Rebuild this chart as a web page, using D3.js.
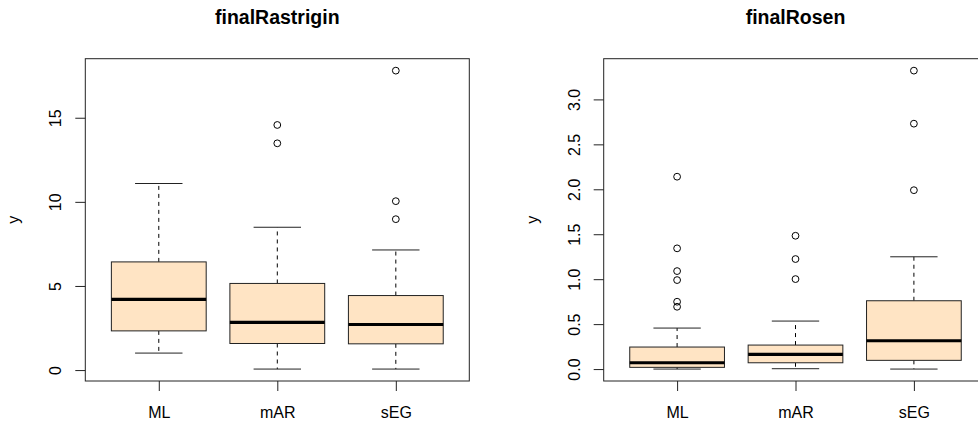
<!DOCTYPE html>
<html lang="en">
<head>
    <meta charset="UTF-8">
    <title>finalRastrigin / finalRosen</title>
    <script src="https://d3js.org/d3.v7.min.js"></script>
    <style>
        html, body { margin: 0; padding: 0; background: #fff; }
        svg { display: block; font-family: 'Liberation Sans', Arial, Helvetica, sans-serif; }
        .tick text { font-size: 16px; fill: #000; }
        .tick line { stroke: #222; }
    </style>
</head>
<body>
    <div id="chart"></div>

    <script>
        // groups shown on the x axis
        const categories = ["ML", "mAR", "sEG"];

        // box stats per group: [lower whisker, Q1, median, Q3, upper whisker]
        const rastriginStats = [
            [1.01, 2.33, 4.20, 6.43, 11.09],
            [0.06, 1.58, 2.83, 5.15, 8.49],
            [0.06, 1.56, 2.71, 4.43, 7.14]
        ];
        const rastriginOutliers = [
            [],
            [14.57, 13.48],
            [17.80, 10.04, 8.97]
        ];
        const rastriginTicks = [0, 5, 10, 15];

        const rosenStats = [
            [0.00, 0.019, 0.07, 0.245, 0.456],
            [0.004, 0.07, 0.163, 0.267, 0.534],
            [0.00, 0.097, 0.315, 0.76, 1.249]
        ];
        const rosenOutliers = [
            [2.14, 1.343, 1.09, 0.99, 0.749, 0.693],
            [1.483, 1.224, 1.001],
            [3.32, 2.73, 1.99]
        ];
        const rosenTicks = [0, 0.5, 1.0, 1.5, 2.0, 2.5, 3.0];

        const width = 978, height = 422;
        const fill = "#FFE4C4";

        const svg = d3.select("#chart").append("svg")
            .attr("width", width)
            .attr("height", height);

        svg.append("rect").attr("width", width).attr("height", height).attr("fill", "#fff");

        function drawPanel(opts) {
            const { left, right, top, bottom, title, stats, outliers, ticks, fmt } = opts;
            const g = svg.append("g");

            // R style: x limits 0.5..n+0.5 widened by 4%
            const x = d3.scaleLinear().domain([0.38, 3.62]).range([left, right]);

            // y limits: data range widened by 4% on each side
            const all = stats.flat().concat(outliers.flat());
            const lo = d3.min(all), hi = d3.max(all);
            const pad = (hi - lo) * 0.04;
            const y = d3.scaleLinear().domain([lo - pad, hi + pad]).range([bottom, top]);

            const bw = 0.8, cw = 0.4;

            stats.forEach((s, i) => {
                const cx = x(i + 1);
                const [wl, q1, med, q3, wu] = s;

                // whiskers
                g.append("line")
                    .attr("x1", cx).attr("x2", cx)
                    .attr("y1", y(q3)).attr("y2", y(wu))
                    .attr("stroke", "#000").attr("stroke-dasharray", "4,4");
                g.append("line")
                    .attr("x1", cx).attr("x2", cx)
                    .attr("y1", y(q1)).attr("y2", y(wl))
                    .attr("stroke", "#000").attr("stroke-dasharray", "4,4");

                // caps
                [wl, wu].forEach(v => {
                    g.append("line")
                        .attr("x1", x(i + 1 - cw / 2)).attr("x2", x(i + 1 + cw / 2))
                        .attr("y1", y(v)).attr("y2", y(v))
                        .attr("stroke", "#222");
                });

                // box
                g.append("rect")
                    .attr("x", x(i + 1 - bw / 2))
                    .attr("width", x(i + 1 + bw / 2) - x(i + 1 - bw / 2))
                    .attr("y", y(q3))
                    .attr("height", y(q1) - y(q3))
                    .attr("fill", fill)
                    .attr("stroke", "#222");

                // median
                g.append("line")
                    .attr("x1", x(i + 1 - bw / 2)).attr("x2", x(i + 1 + bw / 2))
                    .attr("y1", y(med)).attr("y2", y(med))
                    .attr("stroke", "#000").attr("stroke-width", 3.2);

                // outliers
                g.selectAll(null).data(outliers[i]).enter().append("circle")
                    .attr("cx", cx)
                    .attr("cy", d => y(d))
                    .attr("r", 3.4)
                    .attr("fill", "none")
                    .attr("stroke", "#000");
            });

            // plot frame
            g.append("rect")
                .attr("x", left).attr("y", top)
                .attr("width", right - left).attr("height", bottom - top)
                .attr("fill", "none").attr("stroke", "#222");

            // y axis
            const yAxis = g.append("g")
                .attr("transform", `translate(${left},0)`)
                .call(d3.axisLeft(y).tickValues(ticks).tickSize(10).tickFormat(fmt));
            yAxis.select(".domain").remove();
            yAxis.selectAll(".tick text")
                .attr("x", 0).attr("y", 0).attr("dy", 0)
                .attr("text-anchor", "middle")
                .attr("transform", "translate(-24,0) rotate(-90)");

            // x axis
            const xAxis = g.append("g")
                .attr("transform", `translate(0,${bottom})`)
                .call(d3.axisBottom(x).tickValues([1, 2, 3]).tickSize(10)
                    .tickFormat(d => categories[d - 1]));
            xAxis.select(".domain").remove();
            xAxis.selectAll(".tick text").attr("y", 36.5).attr("dy", 0);

            // y label
            g.append("text")
                .attr("transform", `translate(${left - 66},${(top + bottom) / 2}) rotate(-90)`)
                .attr("text-anchor", "middle")
                .attr("font-size", 16)
                .text("y");

            // title
            g.append("text")
                .attr("x", (left + right) / 2)
                .attr("y", 24.3)
                .attr("text-anchor", "middle")
                .attr("font-size", 19.5)
                .attr("font-weight", "bold")
                .text(title);
        }

        drawPanel({
            left: 85.3, right: 469.3, top: 58.7, bottom: 381,
            title: "finalRastrigin",
            stats: rastriginStats, outliers: rastriginOutliers,
            ticks: rastriginTicks, fmt: d3.format("d")
        });

        drawPanel({
            left: 603.7, right: 987.3, top: 58.7, bottom: 381,
            title: "finalRosen",
            stats: rosenStats, outliers: rosenOutliers,
            ticks: rosenTicks, fmt: d3.format(".1f")
        });
    </script>
</body>
</html>
